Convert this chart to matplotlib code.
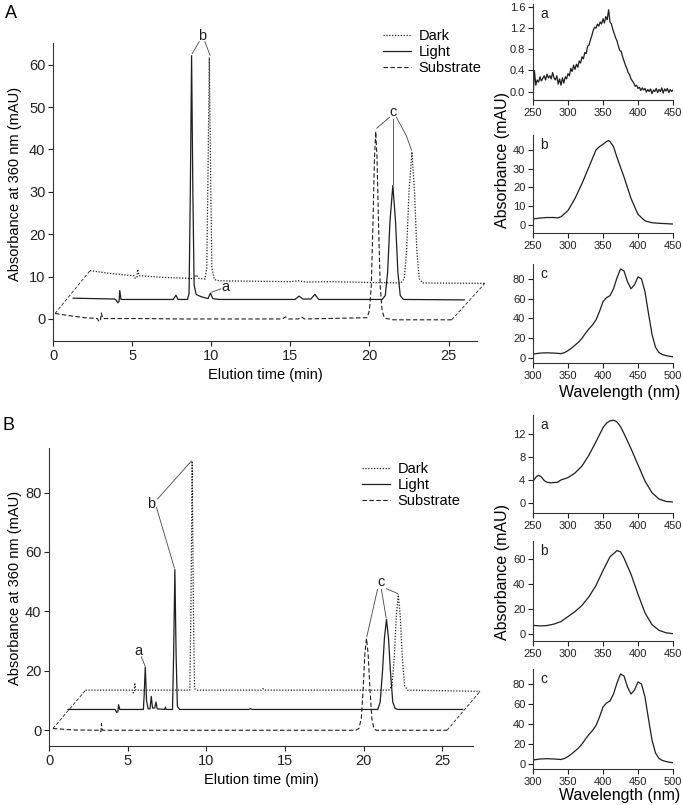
import numpy as np
import matplotlib.pyplot as plt
from matplotlib.ticker import FormatStrFormatter

plt.rcParams['font.family'] = ['Liberation Sans', 'DejaVu Sans']

# ---- chromatograms, panel A (time min, absorbance mAU as drawn in the stacked view)
a_substrate = [(0.13, 1.3), (1.0, 0.8), (2.0, 0.3), (2.8, 0.1), (2.9, -0.6), (3.0, -0.4), (3.05, 1.4),
               (3.15, 0.1), (5.5, 0.1), (8.0, 0.0), (14.5, 0.0), (14.7, 0.5), (14.9, 0.0), (15.5, 0.0),
               (15.7, 0.5), (15.9, 0.0), (19.85, 0.3), (20.0, 2), (20.12, 8), (20.22, 22), (20.32, 38),
               (20.4, 44.2), (20.48, 38), (20.58, 22), (20.68, 8), (20.8, 2), (20.95, 0.2), (21.5, -0.2),
               (25.2, -0.2)]
a_light = [(1.28, 4.9), (3.9, 4.7), (4.0, 4.4), (4.1, 3.8), (4.18, 4.2), (4.22, 6.7), (4.3, 4.6),
           (7.6, 4.6), (7.77, 5.6), (7.9, 4.6), (8.5, 4.6), (8.6, 6), (8.68, 30), (8.76, 62.1),
           (8.84, 30), (8.92, 8), (9.05, 5.8), (9.2, 5.5), (9.4, 5.2), (9.6, 5.0), (9.8, 4.8),
           (9.95, 6.1), (10.1, 4.8), (10.5, 4.6), (15.3, 4.6), (15.55, 5.4), (15.8, 4.7), (16.3, 4.7),
           (16.55, 5.8), (16.8, 4.6), (20.8, 4.6), (21.0, 5.5), (21.15, 11), (21.3, 23), (21.48, 31.5),
           (21.65, 23), (21.8, 11), (21.95, 5.5), (22.15, 4.6), (26.0, 4.5)]
a_dark = [(2.34, 11.4), (3.5, 10.8), (4.5, 10.4), (5.1, 10.2), (5.2, 9.6), (5.3, 9.8), (5.35, 11.7),
          (5.45, 10.2), (7.0, 9.8), (8.5, 9.6), (8.9, 9.5), (9.07, 10.4), (9.2, 9.6), (9.6, 9.4),
          (9.72, 12), (9.8, 35), (9.88, 61.7), (9.96, 35), (10.04, 12), (10.2, 9.3), (10.5, 9.0),
          (15.0, 8.8), (15.5, 9.0), (16.0, 8.7), (17.5, 8.8), (20.0, 8.6), (22.0, 8.5), (22.2, 9.5),
          (22.35, 16), (22.5, 30), (22.69, 39.4), (22.85, 30), (23.0, 16), (23.15, 9.5), (23.35, 8.5),
          (27.3, 8.4)]

# ---- chromatograms, panel B
b_substrate = [(0.25, 0.6), (1.5, 0.1), (3.15, 0.0), (3.2, -0.6), (3.3, -0.4), (3.33, 2.2), (3.4, 0.0),
               (19.5, 0.0), (19.7, 0.6), (19.85, 4), (19.97, 14), (20.08, 26), (20.18, 30.9),
               (20.28, 26), (20.4, 14), (20.52, 4), (20.65, 0.5), (20.8, 0.0), (25.3, 0.0)]
b_light = [(1.21, 7.0), (4.2, 7.0), (4.3, 6.0), (4.38, 6.2), (4.42, 8.6), (4.5, 7.0), (6.0, 7.0),
           (6.05, 12), (6.12, 21.3), (6.2, 10), (6.3, 7.2), (6.42, 7.2), (6.5, 11.4), (6.58, 7.5),
           (6.72, 7.5), (6.8, 9.5), (6.88, 7.2), (7.35, 7.0), (7.4, 7.8), (7.45, 7.0), (7.85, 7.0),
           (7.92, 25), (8.0, 54.1), (8.08, 25), (8.16, 8), (8.3, 7.0), (12.7, 7.0), (12.8, 7.3),
           (12.9, 7.0), (20.9, 7.0), (21.05, 9.5), (21.2, 20), (21.32, 31), (21.45, 37.3), (21.58, 31),
           (21.7, 20), (21.85, 9.5), (22.0, 7.3), (22.2, 7.0), (26.3, 7.0)]
b_dark = [(2.33, 13.5), (5.3, 13.5), (5.35, 12.6), (5.42, 12.8), (5.45, 15.9), (5.52, 13.5),
          (8.95, 13.5), (9.02, 40), (9.1, 90.6), (9.18, 40), (9.25, 14), (9.4, 13.5), (13.5, 13.5),
          (13.6, 14.0), (13.7, 13.5), (21.6, 13.5), (21.8, 15), (21.95, 25), (22.08, 39), (22.2, 45.5),
          (22.32, 39), (22.45, 25), (22.6, 15), (22.8, 13.5), (27.4, 13.1)]

# ---- UV-vis spectra of peaks (wavelength nm, absorbance mAU)
spec_Aa = [-0.15, 0.40, 0.12, 0.22, 0.18, 0.28, 0.20, 0.25, 0.30, 0.22, 0.33, 0.26, 0.30, 0.24, 0.36,
           0.26, 0.22, 0.30, 0.14, 0.24, 0.12, 0.26, 0.16, 0.28, 0.24, 0.34, 0.30, 0.44, 0.38, 0.50,
           0.42, 0.52, 0.46, 0.58, 0.54, 0.66, 0.62, 0.74, 0.72, 0.86, 0.88, 0.98, 1.06, 1.16, 1.22,
           1.20, 1.28, 1.24, 1.32, 1.28, 1.38, 1.30, 1.42, 1.36, 1.55, 1.32, 1.28, 1.18, 1.10, 1.02,
           0.96, 0.86, 0.78, 0.76, 0.66, 0.58, 0.50, 0.44, 0.36, 0.32, 0.24, 0.20, 0.16, 0.10, 0.12,
           0.06, 0.08, 0.02, 0.07, 0.03, 0.06, -0.01, 0.04, 0.00, 0.05, -0.04, 0.03, 0.00, 0.06, -0.02,
           0.04, 0.00, 0.07, -0.03, 0.05, 0.01, 0.06, -0.02, 0.04, 0.00, 0.03]
wl_Ab = [250, 260, 270, 280, 285, 290, 300, 310, 320, 330, 340, 345, 350, 355, 358, 360, 365, 370,
         380, 390, 400, 410, 420, 430, 440, 450]
spec_Ab = [3.0, 3.5, 3.8, 3.8, 3.6, 4.2, 7.5, 14, 22, 31, 40, 41.8, 43, 44.5, 45, 44.5, 41.8, 36,
           25.5, 14, 5.5, 2.0, 1.0, 0.7, 0.5, 0.3]
wl_c = [300, 310, 320, 330, 340, 345, 350, 355, 360, 365, 370, 375, 380, 385, 390, 395, 400, 405,
        410, 415, 420, 425, 430, 435, 440, 445, 450, 455, 460, 465, 470, 475, 480, 485, 490, 495, 500]
spec_c = [4, 5, 5.3, 5, 4.5, 5.5, 7.5, 10, 13, 16, 20, 25, 29.5, 33.5, 38.5, 47, 57, 61, 63, 70, 81,
          90, 88, 77, 70, 74, 82, 80, 67, 45, 24, 11, 5.5, 3.5, 2.5, 1.8, 1.2]
wl_Ba = [250, 255, 258, 262, 266, 270, 275, 285, 290, 300, 310, 320, 330, 340, 350, 355, 360, 365,
         370, 375, 380, 390, 400, 410, 420, 430, 440, 450]
spec_Ba = [3.8, 4.6, 4.8, 4.5, 3.9, 3.6, 3.5, 3.6, 4.0, 4.4, 5.2, 6.4, 8.3, 10.6, 13.0, 13.8, 14.2,
           14.3, 14.0, 13.2, 12.0, 9.4, 6.6, 3.8, 1.8, 0.7, 0.3, 0.2]
wl_Bb = [250, 260, 270, 280, 290, 300, 310, 320, 330, 340, 350, 360, 370, 375, 380, 390, 400, 410,
         420, 430, 440, 450]
spec_Bb = [7, 6.5, 6.8, 8, 10, 14, 18, 23, 30, 39, 51, 62, 67, 66, 61, 48, 32, 17, 7.5, 3, 1, 0.3]

INK = '#1e1e1e'
DOT = (0, (1, 1.3))
DASH = (0, (4, 2.2))
W, H = 683, 805
fig = plt.figure(figsize=(W / 100, H / 100), dpi=100)


def add_ax(l, t, r, b):
    return fig.add_axes([l / W, 1 - b / H, (r - l) / W, (b - t) / H])


def style(ax, size):
    for s in ['top', 'right']:
        ax.spines[s].set_visible(False)
    for s in ['left', 'bottom']:
        ax.spines[s].set_color('#333333')
        ax.spines[s].set_linewidth(0.8)
    ax.tick_params(direction='out', length=3.5, width=0.8, labelsize=size, colors='#222222', pad=2)


def chrom(ax, sub, light, dark, ylim, yticks, xmax, notes, leg_xy):
    t, y = zip(*sub)
    h_sub, = ax.plot(t, y, ls=DASH, color=INK, lw=0.8, clip_on=False, label='Substrate')
    t, y = zip(*light)
    h_light, = ax.plot(t, y, ls='-', color=INK, lw=0.9, clip_on=False, label='Light')
    t, y = zip(*dark)
    h_dark, = ax.plot(t, y, ls=DOT, color=INK, lw=0.9, clip_on=False, label='Dark')
    # edges of the stacked view
    for i in (0, -1):
        ax.plot([sub[i][0], dark[i][0]], [sub[i][1], dark[i][1]], ls=DASH, color=INK, lw=0.6,
                clip_on=False)
    for label, xy, segs in notes:
        ax.text(xy[0], xy[1], label, fontsize=10.5, ha='center', va='center', color=INK)
        for seg in segs:
            xs, ys = zip(*seg)
            ax.plot(xs, ys, color='#444444', lw=0.6, clip_on=False)
    ax.set_xlim(0, xmax)
    ax.set_ylim(*ylim)
    ax.set_xticks([0, 5, 10, 15, 20, 25])
    ax.set_yticks(yticks)
    style(ax, 10.5)
    ax.legend([h_dark, h_light, h_sub], ['Dark', 'Light', 'Substrate'], loc='upper left',
              bbox_to_anchor=(leg_xy[0] / W, 1 - leg_xy[1] / H), bbox_transform=fig.transFigure,
              frameon=False, fontsize=10.5, handlelength=1.95, handletextpad=0.5,
              labelspacing=0.15, borderpad=0, borderaxespad=0)


def spec(ax, wl, vals, ylim, yticks, xlim, xticks, letter, fmt=None):
    ax.plot(wl, vals, color=INK, lw=0.9)
    ax.set_xlim(*xlim)
    ax.set_ylim(*ylim)
    ax.set_xticks(xticks)
    ax.set_yticks(yticks)
    if fmt:
        ax.yaxis.set_major_formatter(FormatStrFormatter(fmt))
    style(ax, 8)
    ax.text(0.05, 0.9, letter, transform=ax.transAxes, fontsize=10, ha='left', va='center', color=INK)


# ---- panel A
axA = add_ax(53, 43, 477, 341)
notesA = [('b', (9.43, 66.8), [[(9.24, 65.4), (8.8, 62.6)], [(9.6, 65.4), (9.93, 62.2)]]),
          ('c', (21.48, 48.9), [[(21.28, 47.6), (20.46, 45.0)], [(21.46, 47.2), (21.46, 31.9)],
                                [(21.7, 47.6), (22.33, 43.3), (22.66, 39.8)]]),
          ('a', (10.92, 7.6), [[(10.6, 7.1), (10.02, 6.3)]])]
chrom(axA, a_substrate, a_light, a_dark, (-5.2, 65.1), [0, 10, 20, 30, 40, 50, 60], 26.8, notesA,
      (383, 29))

# ---- panel B
axB = add_ax(49, 448, 473, 746)
notesB = [('a', (5.68, 26.7), [[(5.87, 24.7), (6.1, 21.7)]]),
          ('b', (6.51, 76.3), [[(6.89, 77.8), (9.05, 90.6)], [(6.83, 75.0), (7.97, 54.6)]]),
          ('c', (21.09, 49.9), [[(20.88, 47.4), (20.2, 31.5)], [(21.13, 47.4), (21.43, 37.8)],
                                [(21.45, 47.6), (22.05, 46.3), (22.2, 45.8)]])]
chrom(axB, b_substrate, b_light, b_dark, (-5.3, 95), [0, 20, 40, 60, 80], 26.95, notesB, (362, 462))

for ax in (axA, axB):
    ax.set_xlabel('Elution time (min)', fontsize=10.5, labelpad=4)
fig.text(15 / W, 1 - 184 / H, 'Absorbance at 360 nm (mAU)', rotation=90, ha='center', va='center',
         fontsize=10.5)
fig.text(15 / W, 1 - 588 / H, 'Absorbance at 360 nm (mAU)', rotation=90, ha='center', va='center',
         fontsize=10.5)
fig.text(11 / W, 1 - 13 / H, 'A', ha='center', va='center', fontsize=13)
fig.text(9 / W, 1 - 425 / H, 'B', ha='center', va='center', fontsize=13)

# ---- spectra
wl_Aa = np.linspace(250, 450, len(spec_Aa))
s = add_ax(533, 4, 673, 100)
spec(s, wl_Aa, spec_Aa, (-0.16, 1.66), [0, 0.4, 0.8, 1.2, 1.6], (250, 450), [250, 300, 350, 400, 450],
     'a', '%.1f')
s = add_ax(533, 135, 673, 233)
spec(s, wl_Ab, spec_Ab, (-4.5, 48), [0, 10, 20, 30, 40], (250, 450), [250, 300, 350, 400, 450], 'b')
s = add_ax(533, 264, 673, 363)
spec(s, wl_c, spec_c, (-5, 95), [0, 20, 40, 60, 80], (300, 500), [300, 350, 400, 450, 500], 'c')
s = add_ax(533, 415, 673, 513)
spec(s, wl_Ba, spec_Ba, (-1.7, 15.2), [0, 4, 8, 12], (250, 450), [250, 300, 350, 400, 450], 'a')
s = add_ax(533, 541, 673, 641)
spec(s, wl_Bb, spec_Bb, (-5.6, 74.7), [0, 20, 40, 60], (250, 450), [250, 300, 350, 400, 450], 'b')
s = add_ax(533, 669, 673, 769)
spec(s, wl_c, spec_c, (-5, 95), [0, 20, 40, 60, 80], (300, 500), [300, 350, 400, 450, 500], 'c')

fig.text(502 / W, 1 - 160 / H, 'Absorbance (mAU)', rotation=90, ha='center', va='center', fontsize=11.5)
fig.text(502 / W, 1 - 572 / H, 'Absorbance (mAU)', rotation=90, ha='center', va='center', fontsize=11.5)
fig.text(620 / W, 1 - 392 / H, 'Wavelength (nm)', ha='center', va='center', fontsize=11.5)
fig.text(620 / W, 1 - 795 / H, 'Wavelength (nm)', ha='center', va='center', fontsize=11.5)

fig.savefig('out.png', dpi=100)
